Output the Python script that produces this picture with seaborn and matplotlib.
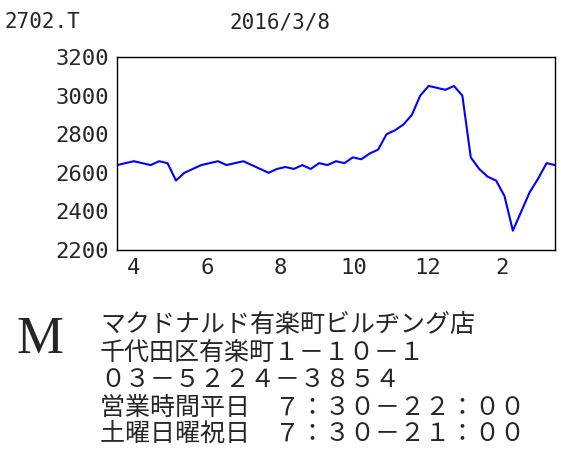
import pandas as pd
import matplotlib.pyplot as plt
import matplotlib.dates as mdates
import seaborn as sns

ticker = "2702.T"
as_of = "2016/3/8"
prices = [2640, 2650, 2660, 2650, 2640, 2660, 2650, 2560, 2600, 2620, 2640,
          2650, 2660, 2640, 2650, 2660, 2640, 2620, 2600, 2620, 2630, 2620,
          2640, 2620, 2650, 2640, 2660, 2650, 2680, 2670, 2700, 2720, 2800,
          2820, 2850, 2900, 3000, 3050, 3040, 3030, 3050, 3000, 2680, 2620,
          2580, 2560, 2480, 2300, 2400, 2500, 2570, 2650, 2640]
dates = pd.date_range("2015-03-18", periods=len(prices), freq="7D")
info_lines = ["マクドナルド有楽町ビルヂング店",
              "千代田区有楽町１－１０－１",
              "０３－５２２４－３８５４",
              "営業時間平日　７：３０－２２：００",
              "土曜日曜祝日　７：３０－２１：００"]

sns.set_style("white")
plt.rcParams['font.family'] = ['DejaVu Sans Mono', 'Noto Sans CJK JP']

fig = plt.figure(figsize=(5.61, 4.57), dpi=100)
ax = fig.add_axes([117 / 561, 1 - 250 / 457, 438 / 561, 193 / 457])
df = pd.DataFrame({"date": dates, "price": prices})
sns.lineplot(data=df, x="date", y="price", ax=ax, color="#0000ff", linewidth=1.5)
ax.set_xlim(dates[0], dates[-1])
ax.set_ylim(2200, 3200)
ax.set_yticks(range(2200, 3201, 200))
ax.xaxis.set_major_locator(mdates.MonthLocator(bymonth=[2, 4, 6, 8, 10, 12]))
ax.xaxis.set_major_formatter(mdates.DateFormatter("%-m"))
ax.set_xlabel("")
ax.set_ylabel("")
ax.tick_params(labelsize=16, length=0, pad=6)
for s in ax.spines.values():
    s.set_color("black")
    s.set_linewidth(1)

fig.text(5 / 561, 1 - 22 / 457, ticker, fontsize=15, va="center")
fig.text(280 / 561, 1 - 22 / 457, as_of, fontsize=15, va="center", ha="center")
fig.text(40 / 561, 1 - 340 / 457, "M", fontsize=38, va="center", ha="center",
         family=["Liberation Serif"], fontweight="light")
for i, line in enumerate(info_lines):
    fig.text(100 / 561, 1 - (325 + i * 27.5) / 457, line, fontsize=18, va="center")

fig.savefig("out.png", dpi=100)
